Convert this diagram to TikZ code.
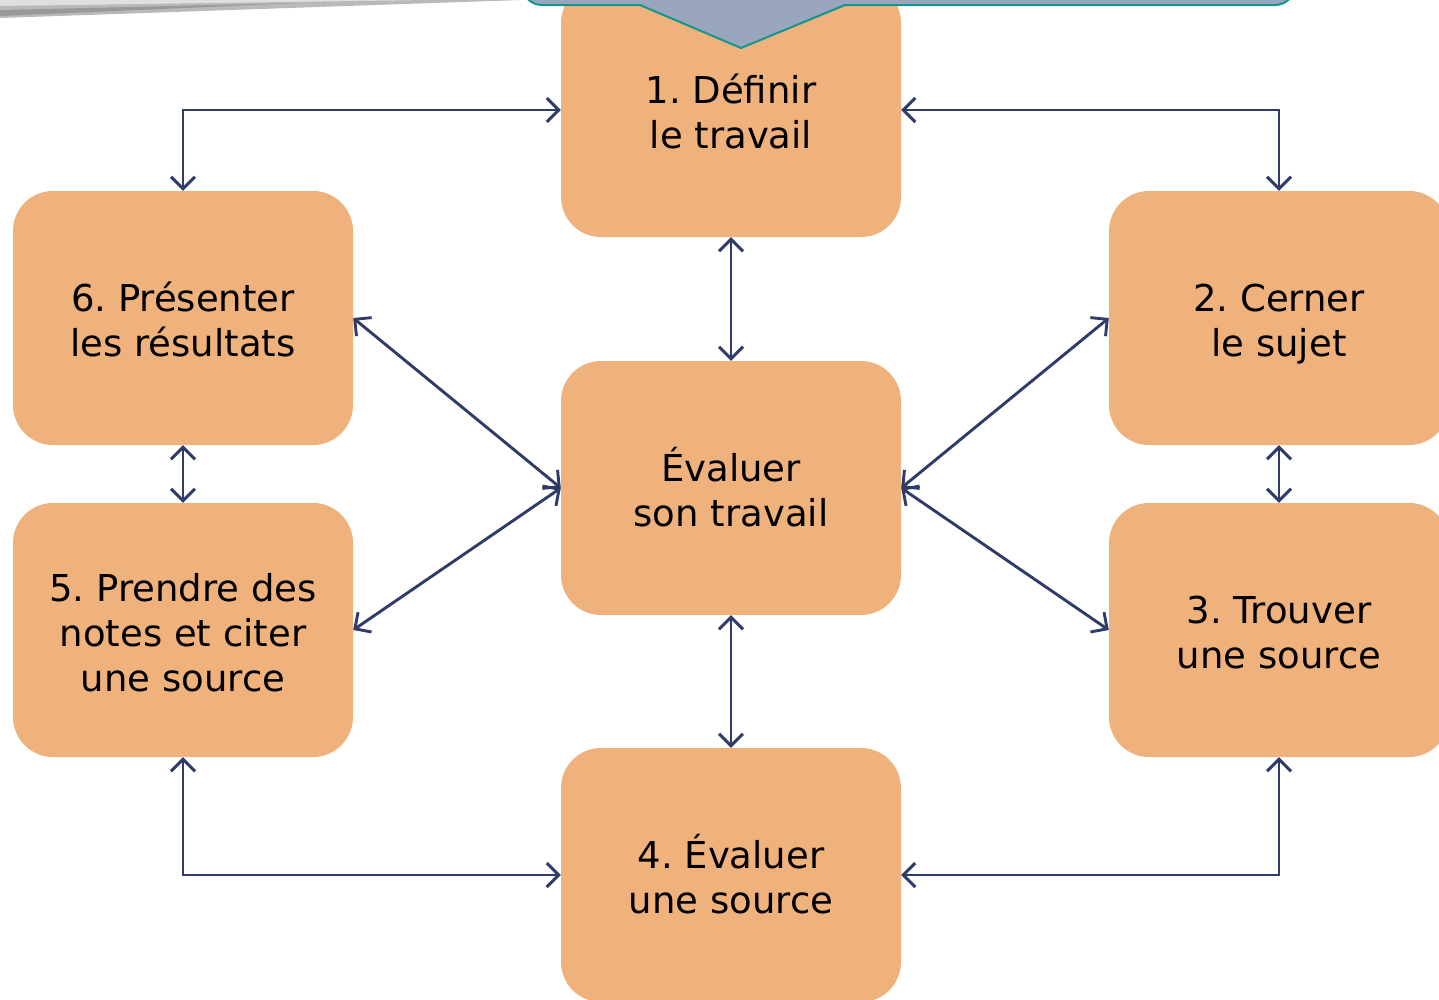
\documentclass[tikz,border=0pt]{standalone}
\usepackage{fontspec}
\setmainfont{DejaVu Sans}
\usetikzlibrary{arrows.meta}
\frenchspacing
\definecolor{boxfill}{RGB}{240,178,124}
\definecolor{navy}{RGB}{47,60,105}
\definecolor{tealb}{RGB}{20,150,143}
\definecolor{greyblue}{RGB}{154,165,190}
\newcommand{\firststrut}{\rule[-13.5pt]{0pt}{59pt}}
\tikzset{
  stepbox/.style={fill=boxfill, rounded corners=40pt, minimum width=340pt, minimum height=254pt,
    inner sep=0pt, align=center, font=\fontsize{37pt}{45pt}\selectfont, text=black},
  conn/.style={draw=navy, line width=2.9pt, {Straight Barb[length=12pt,width=24pt]}-{Straight Barb[length=12pt,width=24pt]}},
}
\begin{document}
\begin{tikzpicture}[x=1pt,y=-1pt]
\useasboundingbox (0,0) rectangle (1439,999);
\clip (0,0) rectangle (1439,999);
% shadow top-left
\fill[gray!25] (0,0) -- (520,0) -- (0,14) -- cycle;
\fill[gray!55] (0,6) -- (430,0) -- (520,0) -- (0,18) -- cycle;
\fill[gray!80] (0,10) -- (300,3) -- (0,16) -- cycle;
% boxes
\node[stepbox] (b1) at (731,110) {\firststrut 1. Définir\\\strut le travail};
\node[stepbox] (b6) at (183,318) {\firststrut 6. Présenter\\\strut les résultats};
\node[stepbox] (b2) at (1279,318) {\firststrut 2. Cerner\\\strut le sujet};
\node[stepbox] (c)  at (731,488) {\firststrut Évaluer\\\strut son travail};
\node[stepbox] (b5) at (183,630) {\firststrut 5. Prendre des\\\strut notes et citer\\\strut une source};
\node[stepbox] (b3) at (1279,630) {\firststrut 3. Trouver\\\strut une source};
\node[stepbox] (b4) at (731,875) {\firststrut 4. Évaluer\\\strut une source};
% top banner
\draw[fill=greyblue, draw=tealb, line width=2pt]
  (522,-60) [rounded corners=20pt] -- (522,5) [sharp corners] -- (640,5) -- (741,48) -- (845,5)
  [rounded corners=20pt] -- (1295,5) -- (1295,-60) [sharp corners] -- cycle;
% connectors
\draw[conn] (b6.north) |- (b1.west);
\draw[conn] (b1.east) -| (b2.north);
\draw[conn] (b1.south) -- (c.north);
\draw[conn] (c.west) -- (b6.east);
\draw[conn] (c.west) -- (b5.east);
\draw[conn] (c.east) -- (b2.west);
\draw[conn] (c.east) -- (b3.west);
\draw[conn] (b6.south) -- (b5.north);
\draw[conn] (b2.south) -- (b3.north);
\draw[conn] (c.south) -- (b4.north);
\draw[conn] (b5.south) |- (b4.west);
\draw[conn] (b3.south) |- (b4.east);
\end{tikzpicture}
\end{document}
